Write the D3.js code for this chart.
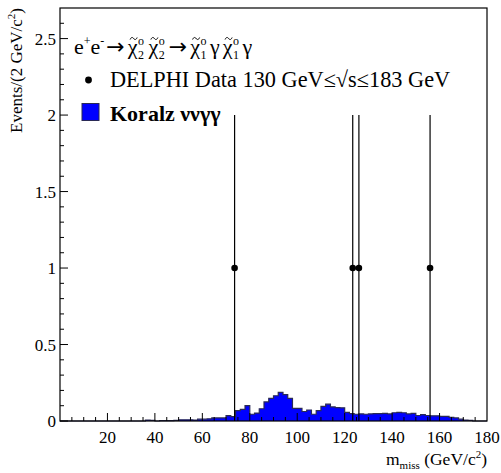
<!DOCTYPE html>
<html><head><meta charset="utf-8">
<script src="https://cdn.jsdelivr.net/npm/d3@7/dist/d3.min.js"></script>
<style>body{margin:0;background:#fff}svg{display:block}text{font-family:"Liberation Serif","Times New Roman",serif;fill:#000}</style>
</head><body><svg id="c" width="501" height="473"></svg>
<script>
// Histogram: Koralz expectation, 2 GeV bins starting at binStarts
const binStarts = d3.range(0, 180, 2);
const koralz = [
 0,0,0,0,0,0,0,0,0,0, 0,0,0,0,0,0,0,0,0.006,0.004,
 0,0.002,0.002,0.003,0.004,0.008,0.008,0.008,0.006,0.012,
 0.012,0.014,0.02,0.02,0.02,0.035,0.028,0.068,0.076,0.1,
 0.044,0.052,0.08,0.125,0.148,0.165,0.187,0.172,0.148,0.083,
 0.083,0.062,0.072,0.044,0.068,0.095,0.11,0.092,0.088,0.086,
 0.056,0.048,0.044,0.046,0.044,0.046,0.048,0.048,0.05,0.046,
 0.054,0.056,0.054,0.046,0.05,0.036,0.042,0.036,0.034,0.034,
 0.03,0.03,0.024,0.02,0.012,0.006,0.004,0,0,0
];
// DELPHI data points
const dataMass = [73.6, 123.4, 126.0, 156.0];
const dataEvents = [1, 1, 1, 1];
const dataErrLo = [1, 1, 1, 1];
const dataErrHi = [1, 1, 1, 1];
const xTicks = [20, 40, 60, 80, 100, 120, 140, 160, 180];
const yTicks = [0, 0.5, 1, 1.5, 2, 2.5];

const svg = d3.select("#c");
const L = 60, R = 487, T = 8, B = 421;
const x = d3.scaleLinear().domain([0, 180]).range([L, R]);
const y = d3.scaleLinear().domain([0, 2.7]).range([B, T]);

// histogram
const pts = [];
binStarts.forEach((b, i) => { pts.push([b, koralz[i]]); pts.push([b + 2, koralz[i]]); });
const area = d3.area().x(d => x(d[0])).y0(y(0)).y1(d => y(d[1]));
svg.append("path").attr("d", area(pts)).attr("fill", "#0000ff");
const line = d3.line().x(d => x(d[0])).y(d => y(d[1]));
svg.append("path").attr("d", line(pts)).attr("fill", "none").attr("stroke", "#2a2a55").attr("stroke-width", 1.2);

// frame
svg.append("rect").attr("x", L).attr("y", T).attr("width", R - L).attr("height", B - T)
  .attr("fill", "none").attr("stroke", "#000").attr("stroke-width", 1.2);

// x axis ticks (inside)
svg.selectAll(".xmin").data(d3.range(5, 180, 5)).enter().append("line")
  .attr("x1", d => x(d)).attr("x2", d => x(d)).attr("y1", B).attr("y2", d => B - (d % 20 === 0 ? 8 : 4))
  .attr("stroke", "#000").attr("stroke-width", 1);
svg.selectAll(".xl").data(xTicks).enter().append("text")
  .attr("x", d => x(d)).attr("y", 443).attr("text-anchor", "middle").attr("font-size", 17).text(d => d);

// y axis ticks
svg.selectAll(".ymin").data(d3.range(0, 27).map(i => i / 10)).enter().append("line")
  .attr("x1", L).attr("x2", d => L + ((Math.round(d * 10) % 5 === 0) ? 8 : 4))
  .attr("y1", d => y(d)).attr("y2", d => y(d)).attr("stroke", "#000").attr("stroke-width", 1);
svg.selectAll(".yl").data(yTicks).enter().append("text")
  .attr("x", 56).attr("y", d => y(d) + 6).attr("text-anchor", "end").attr("font-size", 17).text(d => d);

// data points
dataMass.forEach((m, i) => {
  svg.append("line").attr("x1", x(m)).attr("x2", x(m))
    .attr("y1", y(dataEvents[i] - dataErrLo[i])).attr("y2", y(dataEvents[i] + dataErrHi[i]))
    .attr("stroke", "#000").attr("stroke-width", 1.2);
  svg.append("circle").attr("cx", x(m)).attr("cy", y(dataEvents[i])).attr("r", 3.3).attr("fill", "#000");
});

// axis titles
const yt = svg.append("text").attr("transform", "translate(22,8) rotate(-90)").attr("text-anchor", "end").attr("font-size", 17);
yt.append("tspan").text("Events/(2 GeV/c");
yt.append("tspan").attr("font-size", 11).attr("dy", -7).text("2");
yt.append("tspan").attr("dy", 7).text(")");
const xt = svg.append("text").attr("x", R).attr("y", 465).attr("text-anchor", "end").attr("font-size", 17.5);
xt.append("tspan").text("m");
xt.append("tspan").attr("font-size", 11).attr("dy", 4).text("miss");
xt.append("tspan").attr("dy", -4).text(" (GeV/c");
xt.append("tspan").attr("font-size", 11).attr("dy", -7).text("2");
xt.append("tspan").attr("dy", 7).text(")");

// legend title: one text element with tspans
const FS = 22, SS = 12, BY = 54;
const title = svg.append("text").attr("x", 74).attr("y", BY).attr("font-size", FS);
let off = 0;
function ts(t, size, level, dx, fam) {
  const sp = title.append("tspan").attr("font-size", size).attr("dy", level - off).text(t);
  if (dx) sp.attr("dx", dx);
  if (fam) sp.attr("font-family", fam);
  off = level;
}
function chi(n, pre) {
  ts("χ", FS, 0, pre || 0);
  ts("o", SS, -9, 0.5);
  ts(String(n), SS, 5, -SS * 0.5);
}
ts("e", FS, 0); ts("+", SS, -9); ts("e", FS, 0); ts("-", SS, -9);
ts("→", FS, 0, 2, "DejaVu Sans");
chi(2, 3); chi(2, 4.5);
ts("→", FS, 0, 4, "DejaVu Sans");
chi(1, 3); ts("γ", FS, 0, 3.5); chi(1, 3); ts("γ", FS, 0, 3.5);

// tildes above each chi (drawn as small paths)
const tnode = title.node();
const txt = tnode.textContent;
for (let i = 0; i < txt.length; i++) {
  if (txt[i] === "χ") {
    const e = tnode.getExtentOfChar(i);
    const cx = e.x + e.width / 2 + 1, cy = BY - 15.5;
    svg.append("path")
      .attr("d", `M${cx - 3.5},${cy + 1} C${cx - 2.5},${cy - 1.5} ${cx - 1},${cy - 1.5} ${cx},${cy} S${cx + 2.5},${cy + 1.5} ${cx + 3.5},${cy - 1}`)
      .attr("fill", "none").attr("stroke", "#000").attr("stroke-width", 1);
  }
}

svg.append("circle").attr("cx", 88.5).attr("cy", 80).attr("r", 3.4).attr("fill", "#000");
svg.append("text").attr("x", 110).attr("y", 87).attr("font-size", 22.3).text("DELPHI Data 130 GeV≤√s≤183 GeV");
svg.append("rect").attr("x", 82).attr("y", 103.5).attr("width", 17).attr("height", 17)
  .attr("fill", "#0000ff").attr("stroke", "#2a2a55").attr("stroke-width", 1);
svg.append("text").attr("x", 110).attr("y", 121).attr("font-size", FS).attr("font-weight", "bold").text("Koralz ννγγ");
</script></body></html>
